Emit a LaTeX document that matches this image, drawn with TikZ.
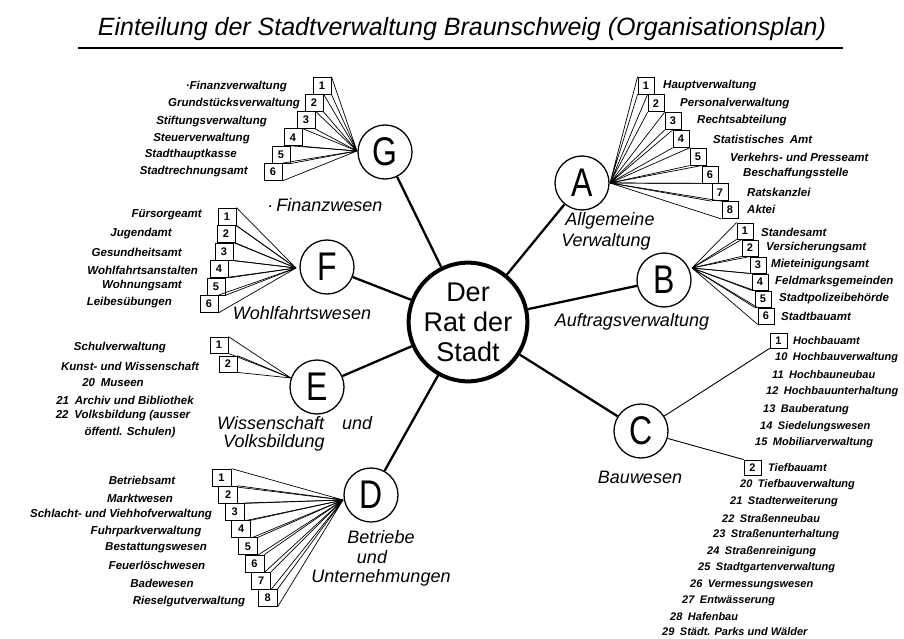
\documentclass[tikz,border=0pt]{standalone}
\usepackage{fontspec}
\setmainfont{Liberation Sans}
\newfontfamily\labfont{Liberation Sans}
\newfontfamily\letfont[FakeStretch=0.8]{Liberation Sans}
\begin{document}
\begin{tikzpicture}[x=1pt,y=-1pt,
  conn/.style={line width=2.3pt},
  fan/.style={line width=0.7pt},
  circ/.style={circle, draw, line width=1.3pt, minimum size=54pt, inner sep=0pt, font=\letfont\fontsize{40}{40}\selectfont},
  nbox/.style={draw, line width=0.8pt, fill=white, inner sep=0pt, minimum width=17pt, minimum height=17pt, font=\labfont\bfseries\fontsize{11}{11}\selectfont},
  lab/.style={inner sep=0pt, font=\labfont\bfseries\itshape\fontsize{11.5}{11.5}\selectfont},
  labc/.style={inner sep=0pt, font=\labfont\bfseries\itshape\fontsize{11}{11}\selectfont},
  grp/.style={inner sep=0pt, font=\labfont\itshape\fontsize{18}{18}\selectfont},
  ttl/.style={inner sep=0pt, font=\labfont\itshape\fontsize{25}{25}\selectfont}]
\useasboundingbox (0,0) rectangle (904,639);
\fill[white] (0,0) rectangle (904,639);

% title
\node[ttl] (title) at (462,29) {Einteilung der Stadtverwaltung Braunschweig (Organisationsplan)};
\coordinate (ulA) at (78,48);
\coordinate (ulB) at (843,48);
\draw[line width=2.5pt] (ulA) -- (ulB);

% center
\node[circle, draw, line width=4pt, minimum size=104pt, inner sep=0pt, align=center,
      font=\fontsize{27}{30}\selectfont] (rat) at (468,322) {Der\\Rat der\\Stadt};

% group circles
\node[circ] (G) at (385,152) {G};
\node[circ] (A) at (582,183) {A};
\node[circ] (F) at (327,267) {F};
\node[circ] (B) at (664,280) {B};
\node[circ] (E) at (317,387) {E};
\node[circ] (C) at (641,431) {C};
\node[circ] (D) at (371,495) {D};
\foreach \n in {G,A,F,B,E,C,D} \draw[conn] (rat) -- (\n);

% group labels
\node[grp] (lG) at (325,205) {·\,Finanzwesen};
\node[grp] (lA1) at (610,221) {Allgemeine};
\node[grp] (lA2) at (606,242) {Verwaltung};
\node[grp] (lB) at (632,322) {Auftragsverwaltung};
\node[grp] (lF) at (302,313) {Wohlfahrtswesen};
\node[grp, anchor=west] (lE1) at (217,423) {Wissenschaft\quad und};
\node[grp, anchor=west] (lE2) at (223,443) {Volksbildung};
\node[grp] (lD1) at (381,537) {Betriebe};
\node[grp] (lD2) at (372,557) {und};
\node[grp] (lD3) at (381,578) {Unternehmungen};
\node[grp] (lC) at (640,477) {Bauwesen};

% G
\coordinate (gf) at (357,151);
\foreach \i/\x/\y in {1/322/85.5, 2/314/102.8, 3/306/120.1, 4/293/137.4, 5/281/154.7, 6/273/172} {
  \node[nbox, minimum width=18pt] (g\i) at (\x,\y) {\i};
  \draw[fan] (gf) -- (g\i.north east) (gf) -- (g\i.south east);
}
\foreach \x/\y/\t in {287/87/{·Finanzverwaltung}, 300/104/Grundstücksverwaltung, 267/122/Stiftungsverwaltung,
  250/139/Steuerverwaltung, 237/155/Stadthauptkasse, 248/172/Stadtrechnungsamt}
  \node[lab, anchor=east] at (\x,\y) {\t};

% A
\coordinate (af) at (610,183);
\foreach \i/\x/\y in {1/646/85.5, 2/656/103.3, 3/673/121.1, 4/681/138.9, 5/698/156.7, 6/710/174.5, 7/720/192.3, 8/730/210.1} {
  \node[nbox, minimum width=16pt] (a\i) at (\x,\y) {\i};
  \draw[fan] (af) -- (a\i.north west) (af) -- (a\i.south west);
}
\foreach \x/\y/\t in {663/86/Hauptverwaltung, 680/104/Personalverwaltung, 697/121/Rechtsabteilung,
  713/139/{Statistisches\enspace Amt}, 730/157/{Verkehrs- und Presseamt}, 743/174/Beschaffungsstelle,
  747/192/Ratskanzlei, 747/209/Aktei}
  \node[lab, anchor=west] at (\x,\y) {\t};

% B
\coordinate (bf) at (692,268);
\foreach \i/\x/\y in {1/745/231, 2/750/248, 3/758/265, 4/760/282, 5/763/299, 6/766/316} {
  \node[nbox, minimum width=16pt, minimum height=16pt] (b\i) at (\x,\y) {\i};
  \draw[fan] (bf) -- (b\i.north west) (bf) -- (b\i.south west);
}
\foreach \x/\y/\t in {761/232/Standesamt, 766/248/Versicherungsamt, 771/265/Mieteinigungsamt,
  775/282/Feldmarksgemeinden, 779/299/Stadtpolizeibehörde, 781/316/Stadtbauamt}
  \node[lab, anchor=west] at (\x,\y) {\t};

% C
\node[nbox, minimum height=15pt] (c1) at (778.5,340.5) {1};
\node[nbox, minimum height=15pt] (c2) at (752.5,467.5) {2};
\draw[fan, line width=0.9pt] (C) -- (c1.south west);
\draw[fan, line width=0.9pt] (C) -- (c2.north west);
\foreach \x/\y/\t in {793/341/Hochbauamt, 775/358/{10\enspace Hochbauverwaltung}, 772/375/{11\enspace Hochbauneubau},
  766/392/{12\enspace Hochbauunterhaltung}, 763/410/{13\enspace Bauberatung}, 760/427/{14\enspace Siedelungswesen},
  755/443/{15\enspace Mobiliarverwaltung},
  768/468/Tiefbauamt, 740/485/{20\enspace Tiefbauverwaltung}, 730/502/{21\enspace Stadterweiterung},
  722/519/{22\enspace Straßenneubau}, 713/535/{23\enspace Straßenunterhaltung}, 707/552/{24\enspace Straßenreinigung},
  698/568/{25\enspace Stadtgartenverwaltung}, 690/585/{26\enspace Vermessungswesen}, 682/601/{27\enspace Entwässerung},
  670/617/{28\enspace Hafenbau}, 662/632/{29\enspace Städt. Parks und Wälder}}
  \node[labc, anchor=west] at (\x,\y) {\t};

% F
\coordinate (ff) at (296,268);
\foreach \i/\x/\y in {1/227/216.5, 2/226/234, 3/224/251.5, 4/219/269, 5/216/286.5, 6/209/304} {
  \node[nbox, minimum width=18pt] (f\i) at (\x,\y) {\i};
  \draw[fan] (ff) -- (f\i.north east) (ff) -- (f\i.south east);
}
\foreach \x/\y/\t in {202/215/Fürsorgeamt, 172/234/Jugendamt, 182/252/Gesundheitsamt,
  198/270/Wohlfahrtsanstalten, 182/286/Wohnungsamt, 172/303/Leibesübungen}
  \node[lab, anchor=east] at (\x,\y) {\t};

% E
\coordinate (ef) at (291,378);
\foreach \i/\x/\y in {1/219/345, 2/228/364} {
  \node[nbox, minimum width=18pt, minimum height=16pt] (e\i) at (\x,\y) {\i};
  \draw[fan] (ef) -- (e\i.north east) (ef) -- (e\i.south east);
}
\foreach \x/\y/\t in {120/348/Schulverwaltung, 130/366/{Kunst- und Wissenschaft}, 113/383/{20\enspace Museen},
  125/400/{21\enspace Archiv und Bibliothek}, 123/416/{22\enspace Volksbildung (ausser}, 130/433/{öffentl. Schulen)}}
  \node[lab] at (\x,\y) {\t};

% D
\coordinate (df) at (343,500);
\foreach \i/\x/\y in {1/221.5/477.5, 2/228.1/494.7, 3/234.7/511.9, 4/241.3/529.1, 5/247.9/546.3, 6/254.5/563.5, 7/261.1/580.7, 8/267.7/597.9} {
  \node[nbox, minimum width=19pt] (d\i) at (\x,\y) {\i};
  \draw[fan] (df) -- (d\i.north east) (df) -- (d\i.south east);
}
\foreach \x/\y/\t in {142/480/Betriebsamt, 140/498/Marktwesen, 121/515/{Schlacht- und Viehhofverwaltung},
  146/532/Fuhrparkverwaltung, 156/548/Bestattungswesen, 157/565/Feuerlöschwesen, 162/583/Badewesen,
  189/602/Rieselgutverwaltung}
  \node[lab] at (\x,\y) {\t};
\end{tikzpicture}
\end{document}
